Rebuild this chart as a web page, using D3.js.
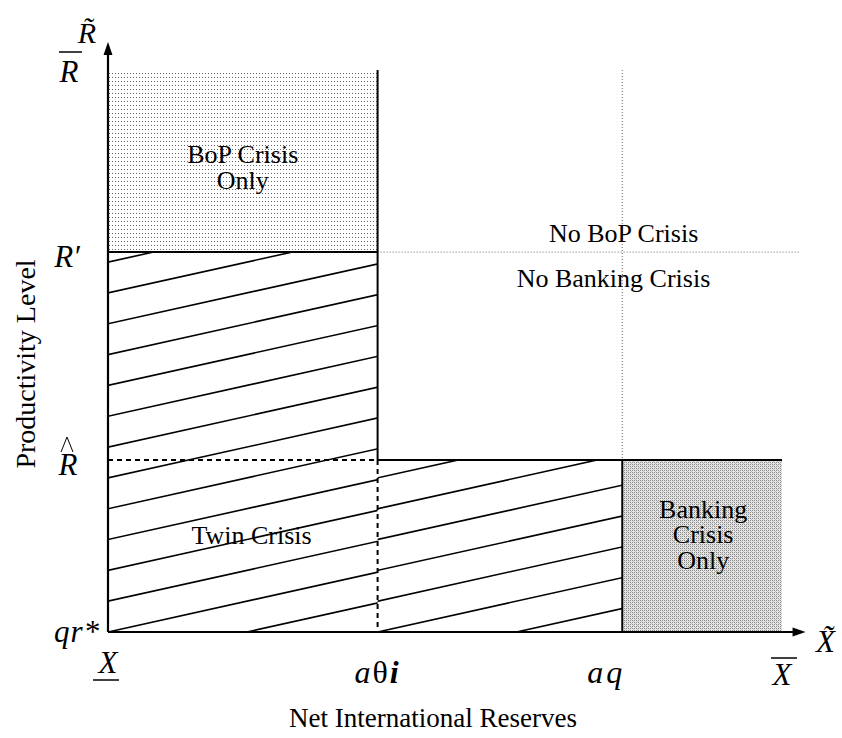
<!DOCTYPE html>
<html>
<head>
<meta charset="utf-8">
<script src="https://cdn.jsdelivr.net/npm/d3@7"></script>
<style>
  html, body { margin: 0; padding: 0; background: #fff; }
  svg { display: block; }
  text { font-family: "Liberation Serif", "DejaVu Serif", serif; fill: #000; }
</style>
</head>
<body>
<svg id="chart" width="842" height="738"></svg>
<script>
// ---- data (abstract units on both axes, 0..100) ----
const xTickLabels = ["X", "aθi", "aq", "X̄"];
const xTickValues = [0, 40, 76.3, 100];
const yTickLabels = ["qr*", "R̂", "R′", "R̄"];
const yTickValues = [0, 30.6, 67.6, 100];
const xAxisEnd = 103.5;
const yAxisEnd = 105;
const xTitle = "Net International Reserves";
const yTitle = "Productivity Level";
const xAxisSymbol = "X̃";
const yAxisSymbol = "R̃";

// regions: [x0, x1, y0, y1]
const bopRegion = [0, 40, 67.6, 100];
const bankRegion = [76.3, 100, 0, 30.6];
const twinRegions = [[0, 40, 0, 67.6], [40, 76.3, 0, 30.6]];
const hatchSpacing = 20.6;   // x units between hatch lines
const hatchSlope = 0.222;    // rise per run (pixels)

const regionLabels = [
  { lines: ["BoP Crisis", "Only"], x: 20, y: 83.4 },
  { lines: ["No BoP Crisis"], x: 76.5, y: 69.4 },
  { lines: ["No Banking Crisis"], x: 75, y: 61.4 },
  { lines: ["Twin Crisis"], x: 21.3, y: 15.6 },
  { lines: ["Banking", "Crisis", "Only"], x: 88.3, y: 20.3 }
];

// ---- scales ----
const svg = d3.select("#chart");
const x = d3.scaleLinear().domain([0, 100]).range([108, 782]);
const y = d3.scaleLinear().domain([0, 100]).range([632, 70]);

// ---- patterns ----
const defs = svg.append("defs");
const pBop = defs.append("pattern").attr("id", "bop").attr("patternUnits", "userSpaceOnUse")
  .attr("width", 3).attr("height", 4);
pBop.append("rect").attr("width", 3).attr("height", 4).attr("fill", "#fff");
pBop.append("rect").attr("x", 1).attr("y", 1).attr("width", 1).attr("height", 1).attr("fill", "#666");

const pBank = defs.append("pattern").attr("id", "bank").attr("patternUnits", "userSpaceOnUse")
  .attr("width", 4).attr("height", 4);
pBank.append("rect").attr("width", 4).attr("height", 4).attr("fill", "#e8e8e8");
[[0,0,"#888"],[2,0,"#888"],[0,2,"#888"],[2,2,"#888"],[1,1,"#bbb"],[3,3,"#bbb"]].forEach(([a,b,c]) =>
  pBank.append("rect").attr("x", a).attr("y", b).attr("width", 1).attr("height", 1).attr("fill", c));

function rectOf(r) {
  return { x: x(r[0]), y: y(r[3]), w: x(r[1]) - x(r[0]), h: y(r[2]) - y(r[3]) };
}

// ---- shaded regions ----
[[bopRegion, "bop"], [bankRegion, "bank"]].forEach(([r, id]) => {
  const R = rectOf(r);
  svg.append("rect").attr("x", R.x).attr("y", R.y).attr("width", R.w).attr("height", R.h)
    .attr("fill", `url(#${id})`).attr("shape-rendering", "crispEdges");
});

// ---- hatched twin-crisis regions ----
twinRegions.forEach((r, i) => {
  const R = rectOf(r);
  const cp = defs.append("clipPath").attr("id", "clip" + i);
  cp.append("rect").attr("x", R.x).attr("y", R.y).attr("width", R.w).attr("height", R.h);
  const g = svg.append("g").attr("clip-path", `url(#clip${i})`);
  const sp = x(hatchSpacing) - x(0);
  const x0 = x(r[0]), yb = y(r[2]);
  const n = Math.ceil((R.w + R.h / hatchSlope) / sp) + 1;
  d3.range(-n, n).forEach(k => {
    const sx = x0 + k * sp;
    const L = 2000;
    g.append("line").attr("x1", sx).attr("y1", yb).attr("x2", sx + L).attr("y2", yb - L * hatchSlope)
      .attr("stroke", "#000").attr("stroke-width", 1.6);
  });
});

// ---- boundary lines ----
const solid = [
  [[0, 67.6], [40, 67.6]],
  [[40, 100], [40, 30.6]],
  [[40, 30.6], [100, 30.6]],
  [[76.3, 30.6], [76.3, 0]]
];
const dashed = [
  [[0, 30.6], [40, 30.6]],
  [[40, 30.6], [40, 0]]
];
const dotted = [
  [[40, 67.6], [102.7, 67.6]],
  [[76.3, 100], [76.3, 30.6]]
];
const line = d3.line().x(d => x(d[0])).y(d => y(d[1]));
dotted.forEach(s => svg.append("path").attr("d", line(s)).attr("fill", "none")
  .attr("stroke", "#666").attr("stroke-width", 1).attr("stroke-dasharray", "1,2"));
dashed.forEach(s => svg.append("path").attr("d", line(s)).attr("fill", "none")
  .attr("stroke", "#000").attr("stroke-width", 2).attr("stroke-dasharray", "5,4"));
solid.forEach(s => svg.append("path").attr("d", line(s)).attr("fill", "none")
  .attr("stroke", "#000").attr("stroke-width", 2));

// ---- axes with arrows ----
svg.append("path").attr("d", line([[0, 0], [0, yAxisEnd - 2]])).attr("stroke", "#000").attr("stroke-width", 2.2).attr("fill", "none");
svg.append("path").attr("d", line([[0, 0], [xAxisEnd - 1.5, 0]])).attr("stroke", "#000").attr("stroke-width", 2.2).attr("fill", "none");
const ax = x(0), ay = y(yAxisEnd);
svg.append("path").attr("d", `M${ax},${ay} L${ax - 4.5},${ay + 13} L${ax + 4.5},${ay + 13} Z`).attr("fill", "#000");
const bx = x(xAxisEnd), by = y(0);
svg.append("path").attr("d", `M${bx},${by} L${bx - 13},${by - 4.5} L${bx - 13},${by + 4.5} Z`).attr("fill", "#000");

// ---- axis symbols ----
svg.append("text").attr("x", x(0) - 21).attr("y", y(yAxisEnd) + 1).attr("text-anchor", "middle")
  .attr("font-size", 30).attr("font-style", "italic").text(yAxisSymbol);
svg.append("text").attr("x", x(xAxisEnd) + 20).attr("y", y(0) + 20).attr("text-anchor", "middle")
  .attr("font-size", 31).attr("font-style", "italic").text(xAxisSymbol);

// ---- y tick labels ----
const yl = svg.append("g");
yTickValues.forEach((v, i) => {
  const lab = yTickLabels[i];
  const cx = x(0) - 40, cy = y(v);
  if (lab === "R̄") {
    yl.append("text").attr("x", cx + 1).attr("y", cy + 12).attr("text-anchor", "middle")
      .attr("font-size", 31).attr("font-style", "italic").text("R");
    yl.append("line").attr("x1", cx - 9).attr("x2", cx + 14).attr("y1", cy - 18).attr("y2", cy - 18)
      .attr("stroke", "#000").attr("stroke-width", 1.5);
  } else if (lab === "R̂") {
    yl.append("text").attr("x", cx).attr("y", cy + 15).attr("text-anchor", "middle")
      .attr("font-size", 31).attr("font-style", "italic").text("R");
    yl.append("path").attr("d", `M${cx - 7},${cy - 8} L${cx - 1},${cy - 23} L${cx + 5},${cy - 8}`)
      .attr("fill", "none").attr("stroke", "#000").attr("stroke-width", 1);
  } else if (lab === "R′") {
    yl.append("text").attr("x", cx - 1).attr("y", cy + 15).attr("text-anchor", "middle")
      .attr("font-size", 31).attr("font-style", "italic").text(lab);
  } else {
    yl.append("text").attr("x", x(0) - 31).attr("y", cy + 10).attr("text-anchor", "middle")
      .attr("font-size", 31).attr("font-style", "italic").attr("letter-spacing", 1).text(lab);
  }
});

// ---- x tick labels ----
const xl = svg.append("g");
xTickValues.forEach((v, i) => {
  const lab = xTickLabels[i];
  const cx = x(v), by2 = y(0) + 51;
  if (lab === "X") {
    xl.append("text").attr("x", cx).attr("y", by2 - 10).attr("text-anchor", "middle")
      .attr("font-size", 31).attr("font-style", "italic").text("X");
    xl.append("line").attr("x1", cx - 15).attr("x2", cx + 11).attr("y1", by2 - 3).attr("y2", by2 - 3)
      .attr("stroke", "#000").attr("stroke-width", 1.5);
  } else if (lab === "X̄") {
    xl.append("text").attr("x", cx).attr("y", by2 + 2).attr("text-anchor", "middle")
      .attr("font-size", 31).attr("font-style", "italic").text("X");
    xl.append("line").attr("x1", cx - 11).attr("x2", cx + 15).attr("y1", by2 - 25).attr("y2", by2 - 25)
      .attr("stroke", "#000").attr("stroke-width", 1.5);
  } else if (lab === "aθi") {
    const t = xl.append("text").attr("x", cx).attr("y", by2).attr("text-anchor", "middle")
      .attr("font-size", 32).attr("letter-spacing", 2);
    t.append("tspan").attr("font-style", "italic").text("a");
    t.append("tspan").text("θ");
    t.append("tspan").attr("font-style", "italic").attr("font-weight", "bold").text("i");
  } else {
    xl.append("text").attr("x", cx - 16).attr("y", by2).attr("text-anchor", "middle")
      .attr("font-size", 32).attr("font-style", "italic").attr("letter-spacing", 3).text(lab);
  }
});

// ---- titles ----
svg.append("text").attr("x", 433).attr("y", 727).attr("text-anchor", "middle")
  .attr("font-size", 27).text(xTitle);
svg.append("text").attr("transform", "translate(35,364) rotate(-90)").attr("text-anchor", "middle")
  .attr("font-size", 28).text(yTitle);

// ---- region labels ----
regionLabels.forEach(r => {
  const t = svg.append("text").attr("text-anchor", "middle").attr("font-size", 26);
  r.lines.forEach((s, j) => {
    t.append("tspan").attr("x", x(r.x)).attr("y", y(r.y) + j * 25.5).text(s);
  });
});
</script>
</body>
</html>
